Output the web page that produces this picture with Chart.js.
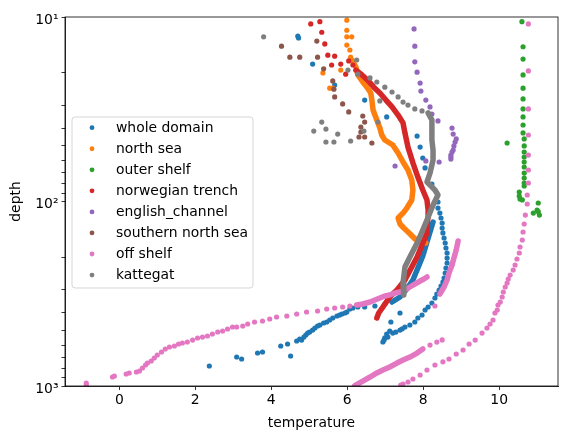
<!DOCTYPE html>
<html>
<head>
<meta charset="utf-8">
<script src="https://cdn.jsdelivr.net/npm/chart.js@4"></script>
<style>
body{margin:0;background:#fff}
</style>
</head>
<body>
<canvas id="chart" width="570" height="440"></canvas>
<script>
// series names and colours (matplotlib tab10)
const seriesNames = ['whole domain','north sea','outer shelf','norwegian trench','english_channel','southern north sea','off shelf','kattegat'];
const seriesColors = ['#1f77b4','#ff7f0e','#2ca02c','#d62728','#9467bd','#8c564b','#e377c2','#7f7f7f'];

// tick values
const xTicks = [0,2,4,6,8,10];
const yTicks = [10,20,30,40,50,60,70,80,90,100,200,300,400,500,600,700,800,900,1000];
const yLabels = {10:'10¹',100:'10²',1000:'10³'};

// [temperature, depth]
const wholeDomainDots = [[4.70,12.7],[4.72,13.0],[5.09,18.0],[5.67,23.4],[6.46,28.2],[7.04,34.8],[7.84,44.2],[7.92,50.7],[7.99,58.1],[8.05,65.8],[8.23,80.4],[8.39,100.6],[8.39,108.5],
  [8.44,115.5],[8.47,122.9],[8.50,130.8],[8.50,139.2],[8.52,148.1],[8.55,157.7],[8.58,167.9],[8.60,178.7],[8.63,190.2],[8.63,202.5],[8.63,215.5],[8.60,229.3],[8.58,244.1],[8.55,259.8],[8.52,273.2],[8.47,287.1],[8.42,301.8],[8.36,317.2],[8.31,333.4],[8.23,354.9],[8.13,373.1],[8.05,387.3],[7.97,412.3],[7.86,428.0],[7.78,450.0],[7.65,467.1],[7.52,478.9],[7.39,497.3],[7.20,516.3],[7.07,542.7],[6.94,577.6],
  [6.99,549],[7.04,523],[7.12,504],[6.97,563],[7.28,510],[7.45,490],[7.39,402],[7.15,450],
  [6.99,359.4],[6.73,368.5],[6.46,373.1],[6.28,373.1],[6.15,377.8],[6.07,382.5],[5.99,397.1],[5.94,402.1],[5.86,407.1],[5.80,412.3],[5.73,417.5],[5.62,428.0],[5.54,438.8],[5.46,450.0],[5.38,455.6],[5.28,467.1],[5.22,473.0],[5.15,484.9],[5.09,497.3],[5.01,509.8],[4.96,516.3],[4.91,529.3],[4.86,542.7],[4.80,563.4],[4.75,556.4],[4.67,570.4],[4.51,687.8],[4.43,592.2],[4.25,607.1],[3.77,654.3],[3.64,662.6],[3.22,714.1],[3.09,696.5],[2.37,779.2]];
const wholeDomainBand = [[8.26,129.2],[8.18,146.3],[8.10,165.8],[7.99,197.4],[7.86,229.3],[7.73,266.4],[7.57,298.1],[7.39,329.3],[7.18,350.6]];

const northSeaDots = [[5.99,10.4],[5.99,11.8],[5.99,12.8],[6.12,12.8],[5.99,14.2],[6.07,15.1],[6.09,16.5],[5.83,19.4],[5.36,20.1],[5.54,24.3],[5.62,24.3]];
const northSeaBand = [[6.12,17.1],[6.23,18.7],[6.28,20.6],[6.41,22.5],[6.52,24.0],[6.62,25.8],[6.65,28.2],[6.68,31.9],[6.78,36.2],[6.86,40.0],[6.91,43.6],[6.99,46.4],[7.20,49.4],[7.34,54.6],[7.47,61.1],[7.60,67.5],[7.70,76.5],[7.73,86.6],[7.70,98.1],[7.57,108.5],[7.47,115.5],[7.34,122.9],[7.39,132.4],[7.49,139.2],[7.63,148.1],[7.76,157.7],[7.89,165.8],[8.07,167.9]];

const outerShelfDots = [[10.6,10.6],[10.63,14.5],[10.63,16.9],[10.63,20.6],[10.63,24.3],[10.63,27.8],[10.63,31.5],[10.63,34.8],[10.63,38.5],[10.63,42.5],[10.66,45.8],[10.66,50.0],[10.66,53.9],[10.66,57.4],[10.66,61.1],[10.66,65.0],[10.66,70.1],[10.66,74.6],[10.66,79.4],[10.66,82.4],[10.53,88.8],[10.53,93.4],[10.55,97.0],[10.61,98.1],[10.21,48.2],[11.03,101.9],[11.00,111.2],[10.90,115.5],[11.06,118.4],[11.03,113.5]];

const norwegianTrenchDots = [[5.04,10.9],[5.28,10.6],[5.33,12.1],[5.41,14.0],[5.49,16.1],[5.67,16.3],[5.59,18.2],[5.83,18.0],[5.96,20.4],[6.04,17.3],[6.15,18.2]];
const norwegianTrenchBand = [[6.23,19.4],[6.39,20.6],[6.54,22.0],[6.70,24.0],[6.86,25.8],[7.02,28.2],[7.18,30.7],[7.34,34.0],[7.47,37.5],[7.52,42.5],[7.60,50.7],[7.73,61.8],[7.86,73.7],[7.99,86.6],[8.10,98.1],[8.13,111.2],[8.13,121.3],[8.10,134.1],[8.10,148.1],[7.97,172.2],[7.84,199.9],[7.70,226.5],[7.52,266.4],[7.31,301.8],[7.12,329.3],[6.94,373.1],[6.83,402.1],[6.78,428.0]];

const englishChannelDots = [[7.76,11.6],[7.78,14.4],[7.78,17.5],[7.84,19.9],[7.92,22.8],[7.94,25.2],[8.07,28.2],[8.18,30.7],[8.23,33.6],[8.39,36.6],[8.76,40.0],[8.79,43.1],[8.87,45.8],[8.84,47.6],[8.81,50.0],[8.79,52.6],[8.76,53.9],[8.73,56.0],[8.73,57.4],[8.73,58.9],[8.42,61.1],[8.07,60.3],[7.26,64.2]];

const southernNorthSeaDots = [[4.27,14.4],[4.49,16.5],[4.75,16.5],[5.20,13.5],[5.22,16.5],[5.38,19.1],[5.62,22.2],[5.65,24.6],[5.67,27.1],[5.88,29.6],[6.04,32.7],[6.41,34.4],[6.46,37.1],[6.36,39.5],[6.36,42.0],[6.31,44.7],[6.46,44.7],[6.65,48.2]];

const offShelfDots = [[10.77,10.9],[10.77,19.6],[10.77,31.5],[10.77,43.6],[10.77,56.0],[10.77,67.5],[10.77,79.4],[10.74,92.2],[10.74,103.2],[10.69,118.4],[10.66,132.4],[10.63,146.3],[10.61,161.7],[10.55,176.5],[10.53,190.2],[10.47,205.0],[10.42,220.9],[10.37,235.1],[10.29,250.3],[10.24,263.1],[10.21,276.6],[10.16,290.7],[10.11,309.4],[10.08,329.3],[10.03,350.6],[9.97,363.9],[9.95,387.3],[9.89,402.1],[9.84,438.8],[9.76,461.3],[9.68,484.9],[9.55,516.3],[9.37,563.4],[9.21,592.2],[9.05,638.2],[8.87,670.9],[8.68,714.1],[8.52,740],[8.31,769.5],[8.10,819.0],[7.92,871.8],[7.73,916.5],[7.60,951.3],[7.47,975.4],[7.41,988],
  [8.31,368.5],[8.18,600],[8.36,578],[8.50,563],
  [-0.87,963.5],[-0.87,990],[-0.18,893.8],[-0.13,882.7],[0.18,861.0],[0.26,850.3],[0.45,839.7],[0.53,829.3],[0.61,798.8],[0.69,769.5],[0.74,750.6],[0.84,732.1],[0.92,705.2],[1.00,679.3],[1.11,654.3],[1.21,630.3],[1.32,614.7],[1.45,607.1],[1.56,592.2],[1.66,584.8],[1.79,577.6],[1.93,563.4],[2.06,549.5],[2.19,542.7],[2.32,535.9],[2.45,522.7],[2.59,509.8],[2.72,503.5],[2.85,491.1],[2.98,478.9],[3.09,478.9],[3.25,473.0],[3.38,461.3],[3.56,450.0],[3.77,444.3],[3.96,433.5],[4.14,422.7],[4.41,417.5],[4.67,407.1],[4.93,397.1],[5.22,392.2],[5.46,382.5],[5.67,377.8],[5.88,373.1],[6.07,368.5]];
const offShelfBandLow = [[6.20,995],[6.28,975],[6.41,940],[6.60,894],[6.78,850],[6.94,819],[7.12,789],[7.31,751],[7.47,723],[7.65,697],[7.84,663],[7.99,630]];
const offShelfBandMid = [[8.92,163.8],[8.87,183.2],[8.81,202.5],[8.76,220.9],[8.68,244.1],[8.63,266.4],[8.55,290.7],[8.44,317.2]];
const offShelfBandUp = [[6.25,363.9],[6.41,359.4],[6.60,350.6],[6.73,342.0],[6.86,333.4],[6.99,325.2],[7.12,321.2],[7.26,313.3],[7.39,309.4],[7.52,301.8],[7.65,290.7],[7.78,280.1],[7.92,269.7],[8.02,263.1],[8.10,256.6]];

const kattegatDots = [[3.80,12.8],[5.33,37.1],[5.12,41.5],[5.44,40.5],[5.75,43.1],[5.44,47.6],[5.65,47.6],[6.09,47.0],[6.44,41.5],[6.86,28.5],[6.81,37.1],[6.25,17.1],[6.02,19.4],
  [6.28,20.4],[6.60,21.4],[6.78,22.5],[6.99,24.0],[7.18,25.5],[7.34,27.1],[7.47,28.9],[7.60,30.0],[7.78,31.5],[7.97,32.3]];
const kattegatBand = [[8.13,33.1],[8.23,36.2],[8.23,41.0],[8.23,46.4],[8.26,52.6],[8.26,59.6],[8.18,70.1],[8.10,78.4],[8.31,86.6],[8.39,92.2],[8.26,104.5],[8.10,126.0],[7.99,142.7],[7.84,167.9],[7.65,199.9],[7.52,226.5],[7.47,276.6],[7.49,321.2]];

const FONT = 'DejaVu Sans';
const pts = arr => arr.map(p => ({x: p[0], y: p[1]}));

// later series sit on top, as in matplotlib
function dots(i, arr) {
  return {label: seriesNames[i], data: pts(arr), showLine: false, clip: 0,
    backgroundColor: seriesColors[i], borderColor: seriesColors[i],
    pointRadius: 2.6, pointBorderWidth: 0, order: 10 - i};
}
function band(i, arr) {
  return {label: seriesNames[i], data: pts(arr), showLine: true, clip: 0,
    borderColor: seriesColors[i], backgroundColor: seriesColors[i], borderWidth: 5.5,
    borderCapStyle: 'round', borderJoinStyle: 'round', pointRadius: 0, order: 10 - i};
}

const datasets = [
  dots(0, wholeDomainDots), band(0, wholeDomainBand),
  dots(1, northSeaDots), band(1, northSeaBand),
  dots(2, outerShelfDots),
  dots(3, norwegianTrenchDots), band(3, norwegianTrenchBand),
  dots(4, englishChannelDots),
  dots(5, southernNorthSeaDots),
  dots(6, offShelfDots), band(6, offShelfBandLow), band(6, offShelfBandMid), band(6, offShelfBandUp),
  dots(7, kattegatDots), band(7, kattegatBand)
];

// box round the plot
const frame = {
  id: 'frame',
  afterDatasetsDraw(chart) {
    const {ctx, chartArea: a} = chart;
    ctx.save();
    ctx.strokeStyle = '#000';
    ctx.lineWidth = 0.8;
    ctx.strokeRect(a.left, a.top, a.right - a.left, a.bottom - a.top);
    ctx.restore();
  }
};

// matplotlib style legend inside the axes
const legendBox = {
  id: 'legendBox',
  afterDraw(chart) {
    const {ctx, chartArea: a} = chart;
    const x0 = a.left + 7, y0 = a.top + 100, w = 181, h = 171;
    ctx.save();
    ctx.globalAlpha = 0.8;
    ctx.fillStyle = '#fff';
    ctx.strokeStyle = '#cccccc';
    ctx.lineWidth = 1;
    ctx.beginPath();
    ctx.roundRect(x0, y0, w, h, 3);
    ctx.fill();
    ctx.stroke();
    ctx.globalAlpha = 1;
    ctx.font = '13.9px "' + FONT + '"';
    ctx.textBaseline = 'middle';
    seriesNames.forEach((name, i) => {
      const y = y0 + 10.7 + i * 21.05;
      ctx.fillStyle = seriesColors[i];
      ctx.beginPath();
      ctx.arc(x0 + 20, y, 2.4, 0, Math.PI * 2);
      ctx.fill();
      ctx.fillStyle = '#000';
      ctx.fillText(name, x0 + 44, y + 0.5);
    });
    ctx.restore();
  }
};

new Chart(document.getElementById('chart'), {
  type: 'scatter',
  data: {datasets},
  plugins: [frame, legendBox],
  options: {
    responsive: false,
    animation: false,
    devicePixelRatio: 1,
    events: [],
    layout: {padding: {top: 17, right: 12, left: 0, bottom: 0}},
    plugins: {legend: {display: false}, tooltip: {enabled: false}},
    scales: {
      x: {
        type: 'linear', min: -1.43, max: 11.55,
        afterBuildTicks: s => { s.ticks = xTicks.map(v => ({value: v})); },
        afterFit: s => { s.height = 54; },
        ticks: {color: '#000', font: {family: FONT, size: 13.9}, padding: 2, maxRotation: 0, autoSkip: false},
        grid: {drawOnChartArea: false, drawTicks: true, tickLength: 4, tickColor: '#000', tickWidth: 0.8},
        border: {display: true, color: '#000', width: 0.8},
        title: {display: true, text: 'temperature', color: '#000', font: {family: FONT, size: 13.9}, padding: {top: 2, bottom: 8}}
      },
      y: {
        type: 'logarithmic', reverse: true, min: 10, max: 1000,
        afterBuildTicks: s => { s.ticks = yTicks.map(v => ({value: v})); },
        afterFit: s => { s.width = 65; },
        ticks: {color: '#000', font: {family: FONT, size: 13.9}, padding: 3, autoSkip: false, labelOffset: 3,
          callback: v => yLabels[v] || ''},
        grid: {drawOnChartArea: false, drawTicks: true, tickLength: 3.5, tickColor: '#000', tickWidth: 0.8},
        border: {display: true, color: '#000', width: 0.8},
        title: {display: true, text: 'depth', color: '#000', font: {family: FONT, size: 13.9}, padding: {top: 8, bottom: 0}}
      }
    }
  }
});
</script>
</body>
</html>
